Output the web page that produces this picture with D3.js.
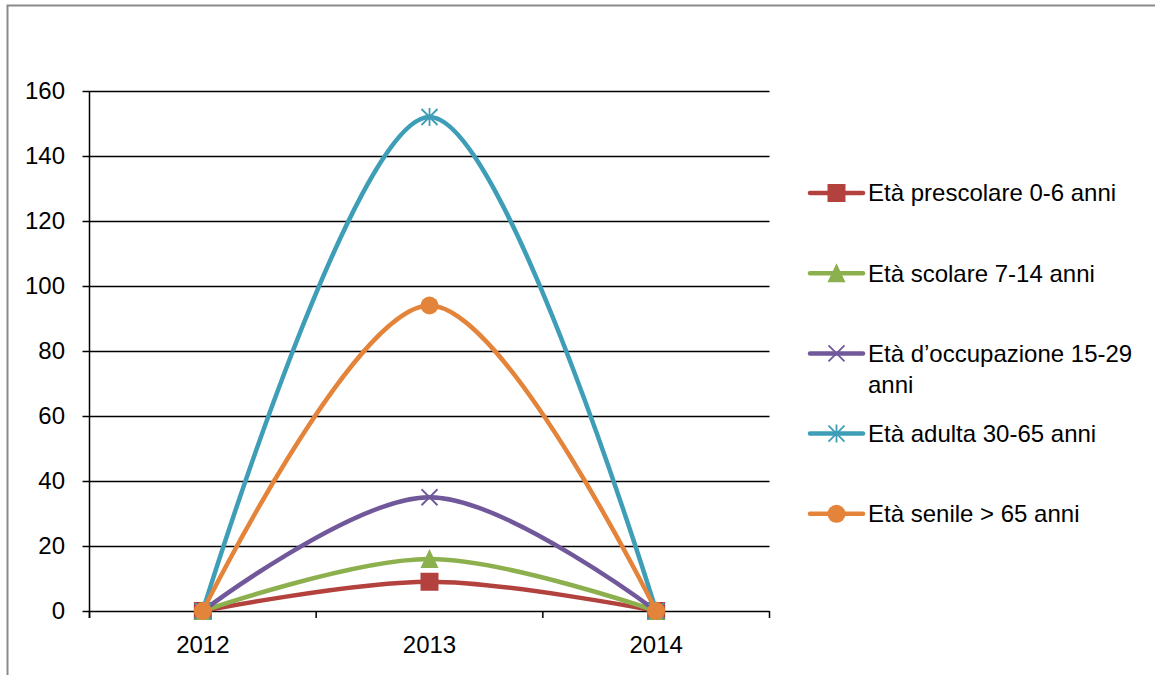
<!DOCTYPE html>
<html><head><meta charset="utf-8">
<script src="https://cdn.jsdelivr.net/npm/d3@7"></script>
<style>
html,body{margin:0;padding:0;background:#fff;}
svg{display:block;}
text{font-family:"Liberation Sans",Arial,sans-serif;fill:#000;}
</style></head>
<body>
<script>
const categories = ["2012", "2013", "2014"];
const seriesNames = ["Età prescolare 0-6 anni", "Età scolare 7-14 anni", "Età d\u2019occupazione 15-29 anni", "Età adulta 30-65 anni", "Età senile > 65 anni"];
const prescolare = [0, 9, 0];
const scolare = [0, 16, 0];
const occupazione = [0, 35, 0];
const adulta = [0, 152, 0];
const senile = [0, 94, 0];
const yTicks = [0, 20, 40, 60, 80, 100, 120, 140, 160];
const colors = ["#B3423F", "#8DB04E", "#71589A", "#3E9DB7", "#E3843A"];
const markers = ["square", "triangle", "x", "star", "circle"];
const legendLines = [["Età prescolare 0-6 anni"], ["Età scolare 7-14 anni"], ["Età d\u2019occupazione 15-29", "anni"], ["Età adulta 30-65 anni"], ["Età senile > 65 anni"]];

const seriesValues = [prescolare, scolare, occupazione, adulta, senile];
const W = 1155, H = 675;
const FS = 24;
const svg = d3.select("body").append("svg").attr("width", W).attr("height", H);

// outer border
svg.append("rect").attr("x", 7.5).attr("y", 5.5).attr("width", 1200).attr("height", 800)
  .attr("fill", "none").attr("stroke", "#8a8a8a").attr("stroke-width", 2);

const pLeft = 89.5, pRight = 769.5, pTop = 91, pBottom = 611;
const x = d3.scaleBand().domain(categories).range([pLeft, pRight]).paddingInner(0).paddingOuter(0);
const y = d3.scaleLinear().domain([0, 160]).range([pBottom, pTop]);
const xc = d => x(d) + x.bandwidth() / 2;

// gridlines
svg.append("g").selectAll("line").data(yTicks).join("line")
  .attr("x1", pLeft - 7).attr("x2", pRight).attr("y1", d => Math.round(y(d)) + 0.5).attr("y2", d => Math.round(y(d)) + 0.5)
  .attr("stroke", "#000").attr("stroke-width", 1.5);

// y axis line
svg.append("line").attr("x1", pLeft).attr("x2", pLeft).attr("y1", pTop).attr("y2", pBottom + 7)
  .attr("stroke", "#000").attr("stroke-width", 1.5);

// y tick labels
svg.append("g").selectAll("text").data(yTicks).join("text")
  .attr("x", 65).attr("y", d => y(d)).attr("dy", "0.35em").attr("text-anchor", "end")
  .attr("font-size", FS).text(d => d);

// x ticks (category boundaries)
const bounds = categories.map(c => x(c)).concat([pRight]);
svg.append("g").selectAll("line").data(bounds).join("line")
  .attr("x1", d => d).attr("x2", d => d).attr("y1", pBottom).attr("y2", pBottom + 7)
  .attr("stroke", "#000").attr("stroke-width", 1.5);

svg.append("g").selectAll("text").data(categories).join("text")
  .attr("x", d => xc(d)).attr("y", 645).attr("dy", "0.35em").attr("text-anchor", "middle")
  .attr("font-size", FS).text(d => d);

const line = d3.line().x((d, i) => xc(categories[i])).y(d => y(d)).curve(d3.curveCardinal.tension(0));

function drawMarker(g, type, cx, cy, color) {
  const s = 9;
  if (type === "square") {
    g.append("rect").attr("x", cx - s).attr("y", cy - s).attr("width", 2 * s).attr("height", 2 * s).attr("fill", color);
  } else if (type === "triangle") {
    g.append("path").attr("d", `M${cx},${cy - s - 1}L${cx + s},${cy + s}L${cx - s},${cy + s}Z`).attr("fill", color);
  } else if (type === "x") {
    g.append("path").attr("d", `M${cx - s + 1},${cy - s + 1}L${cx + s - 1},${cy + s - 1}M${cx - s + 1},${cy + s - 1}L${cx + s - 1},${cy - s + 1}`)
      .attr("stroke", color).attr("stroke-width", 1.8).attr("fill", "none");
  } else if (type === "star") {
    g.append("path").attr("d", `M${cx - s + 1},${cy - s + 1}L${cx + s - 1},${cy + s - 1}M${cx - s + 1},${cy + s - 1}L${cx + s - 1},${cy - s + 1}M${cx},${cy - s}L${cx},${cy + s}`)
      .attr("stroke", color).attr("stroke-width", 1.8).attr("fill", "none");
  } else if (type === "circle") {
    g.append("circle").attr("cx", cx).attr("cy", cy).attr("r", s).attr("fill", color);
  }
}

seriesValues.forEach((vals, si) => {
  const g = svg.append("g");
  g.append("path").attr("d", line(vals)).attr("fill", "none").attr("stroke", colors[si])
    .attr("stroke-width", 4.5).attr("stroke-linecap", "round");
  vals.forEach((v, i) => drawMarker(g, markers[si], xc(categories[i]), y(v), colors[si]));
});

// legend
const lg = svg.append("g");
seriesNames.forEach((name, si) => {
  const cy = 193 + si * 80.2;
  const g = lg.append("g");
  g.append("line").attr("x1", 810).attr("x2", 863).attr("y1", cy).attr("y2", cy)
    .attr("stroke", colors[si]).attr("stroke-width", 4.5).attr("stroke-linecap", "round");
  drawMarker(g, markers[si], 836.5, cy, colors[si]);
  legendLines[si].forEach((t, li) => {
    g.append("text").attr("x", 868).attr("y", cy + li * 31).attr("dy", "0.35em")
      .attr("font-size", FS).text(t);
  });
});
</script>
</body></html>
